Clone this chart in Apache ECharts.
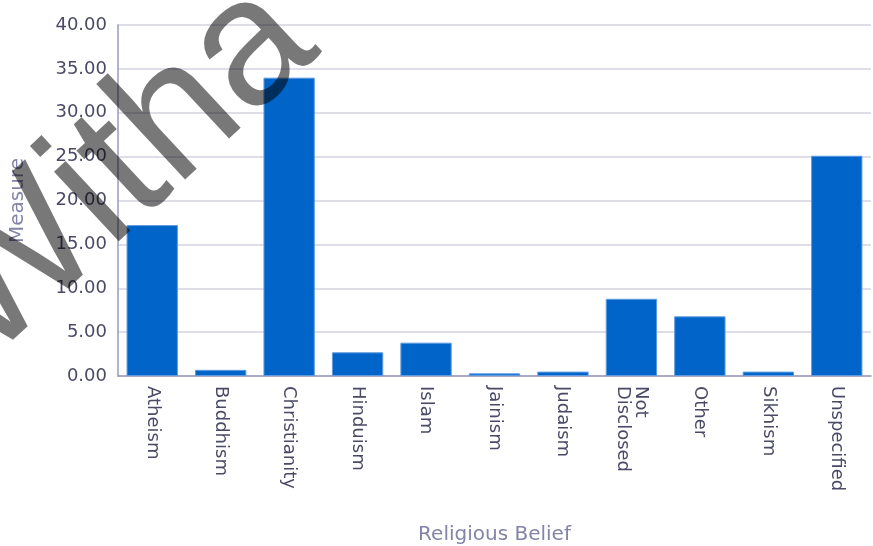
<!DOCTYPE html>
<html>
<head>
<meta charset="utf-8">
<script src="https://cdn.jsdelivr.net/npm/echarts@6/dist/echarts.min.js"></script>
<style>html,body{margin:0;padding:0;background:#fff}#c{width:873px;height:546px}</style>
</head>
<body>
<div id="c"></div>
<script>
const categories = ['Atheism','Buddhism','Christianity','Hinduism','Islam','Jainism','Judaism','Not\nDisclosed','Other','Sikhism','Unspecified'];
const values = [17.2, 0.7, 34.0, 2.7, 3.8, 0.3, 0.5, 8.8, 6.8, 0.5, 25.1];
const xAxisTitle = 'Religious Belief';
const yAxisTitle = 'Measure';
const watermarkText = 'Witha';

const chart = echarts.init(document.getElementById('c'), null, {renderer: 'canvas'});
const font = 'DejaVu Sans';
chart.setOption({
  animation: false,
  grid: {left: 118, right: 2, top: 25, bottom: 170, containLabel: false, outerBoundsMode: 'none'},
  xAxis: {
    type: 'category',
    data: categories,
    name: xAxisTitle,
    nameLocation: 'middle',
    nameGap: 149,
    nameTextStyle: {color: '#8484a8', fontSize: 20, fontFamily: font},
    axisLine: {lineStyle: {color: '#9a9abc', width: 1.5}},
    axisTick: {show: false},
    axisLabel: {rotate: -90, margin: 10, color: '#4a4a66', fontSize: 18, fontFamily: font, interval: 0, lineHeight: 18}
  },
  yAxis: {
    type: 'value',
    min: 0, max: 40, interval: 5,
    name: yAxisTitle,
    nameLocation: 'middle',
    nameGap: 90,
    nameRotate: 90,
    nameTextStyle: {color: '#8484a8', fontSize: 20, fontFamily: font},
    axisLine: {show: true, lineStyle: {color: '#9a9abc', width: 1.5}},
    axisTick: {show: false},
    splitLine: {lineStyle: {color: '#dedee8', width: 2}},
    axisLabel: {margin: 11, color: '#4a4a66', fontSize: 18, fontFamily: font, formatter: v => v.toFixed(2)}
  },
  series: [{
    type: 'bar',
    data: values,
    barCategoryGap: '25%',
    itemStyle: {color: '#0064c8', borderColor: '#5f9be0', borderWidth: 1}
  }],
  graphic: [{
    type: 'text',
    x: -48, y: 329,
    rotation: 43 * Math.PI / 180,
    z: 100,
    style: {text: watermarkText, fill: 'rgba(0,0,0,0.53)', fontSize: 180, fontFamily: 'Liberation Sans', verticalAlign: 'middle', align: 'left'}
  }]
});
</script>
</body>
</html>
